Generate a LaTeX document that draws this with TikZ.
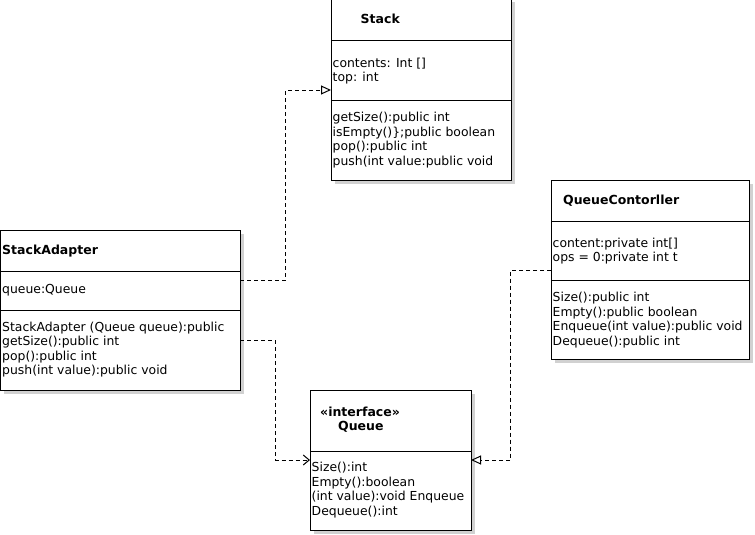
\documentclass[tikz,border=0pt]{standalone}
\usepackage{fontspec}
\setmainfont{DejaVu Sans}
\usetikzlibrary{arrows.meta,shadows}

\begin{document}
\begin{tikzpicture}[x=1pt,y=-1pt,
  classbox/.style={draw, line width=1pt, fill=white, anchor=north west,
    inner sep=0pt, outer sep=0pt,
    drop shadow={shadow xshift=3.5pt, shadow yshift=-3.5pt, fill=black!18, opacity=1}},
  divider/.style={line width=1pt},
  txt/.style={anchor=base west, inner sep=0pt, font=\fontsize{12.4}{14.6}\selectfont},
  ttl/.style={txt, font=\fontsize{12.5}{14.6}\selectfont\bfseries},
  conn/.style={line width=1pt, dash pattern=on 4pt off 3pt},
  realize/.style={conn, -{Triangle[open, length=10pt, width=9pt, line width=1pt]}},
  uses/.style={conn, -{Straight Barb[length=6pt, width=10pt, line width=1pt]}}]

\useasboundingbox (0,0) rectangle (755,535);

% ---- class boxes ----
\node[classbox, minimum width=180pt, minimum height=181pt] (stack) at (331,-1) {};
\node[classbox, minimum width=239.5pt, minimum height=160pt] (adapter) at (0.5,230) {};
\node[classbox, minimum width=198pt, minimum height=179pt] (ctrl) at (551,180) {};
\node[classbox, minimum width=161pt, minimum height=140pt] (queue) at (310,390) {};

% ---- compartment dividers ----
\draw[divider] (stack.west |- 0,41) -- (stack.east |- 0,41);
\draw[divider] (stack.west |- 0,100) -- (stack.east |- 0,100);
\draw[divider] (adapter.west |- 0,271) -- (adapter.east |- 0,271);
\draw[divider] (adapter.west |- 0,310) -- (adapter.east |- 0,310);
\draw[divider] (ctrl.west |- 0,221) -- (ctrl.east |- 0,221);
\draw[divider] (ctrl.west |- 0,280) -- (ctrl.east |- 0,280);
\draw[divider] (queue.west |- 0,451) -- (queue.east |- 0,451);

% ---- Stack ----
\node[ttl] (stack-name) at (360.5,24) {Stack};
\node[txt] (stack-attr) at (332.5,67) {\vtop{\hbox{contents: Int []}\hbox{top: int}}};
\node[txt] (stack-ops) at (332.5,121.5) {\vtop{\hbox{getSize():public int}\hbox{isEmpty()\};public boolean}\hbox{pop():public int}\hbox{push(int value:public void}}};

% ---- StackAdapter ----
\node[ttl] (adapter-name) at (2,254) {StackAdapter};
\node[txt] (adapter-attr) at (2,293) {queue:Queue};
\node[txt] (adapter-ops) at (2,331) {\vtop{\hbox{StackAdapter (Queue queue):public}\hbox{getSize():public int}\hbox{pop():public int}\hbox{push(int value):public void}}};

% ---- QueueContorller ----
\node[ttl] (ctrl-name) at (563,204) {QueueContorller};
\node[txt] (ctrl-attr) at (552.5,247) {\vtop{\hbox{content:private int[]}\hbox{ops = 0:private int t}}};
\node[txt] (ctrl-ops) at (552.5,301.5) {\vtop{\hbox{Size():public int}\hbox{Empty():public boolean}\hbox{Enqueue(int value):public void}\hbox{Dequeue():public int}}};

% ---- Queue interface ----
\node[ttl] (queue-stereo) at (320,416) {«interface»};
\node[ttl] (queue-name) at (338,430) {Queue};
\node[txt] (queue-ops) at (311.5,471.5) {\vtop{\hbox{Size():int}\hbox{Empty():boolean}\hbox{(int value):void Enqueue}\hbox{Dequeue():int}}};

% ---- relations ----
\draw[realize] (adapter.east |- 0,280) -- (285.5,280) |- (stack.west |- 0,90);
\draw[uses] (adapter.east |- 0,340.5) -- (275.5,340.5) |- (queue.west |- 0,460);
\draw[realize] (ctrl.west |- 0,270) -- (510.5,270) |- (queue.east |- 0,460);

\end{tikzpicture}
\end{document}
